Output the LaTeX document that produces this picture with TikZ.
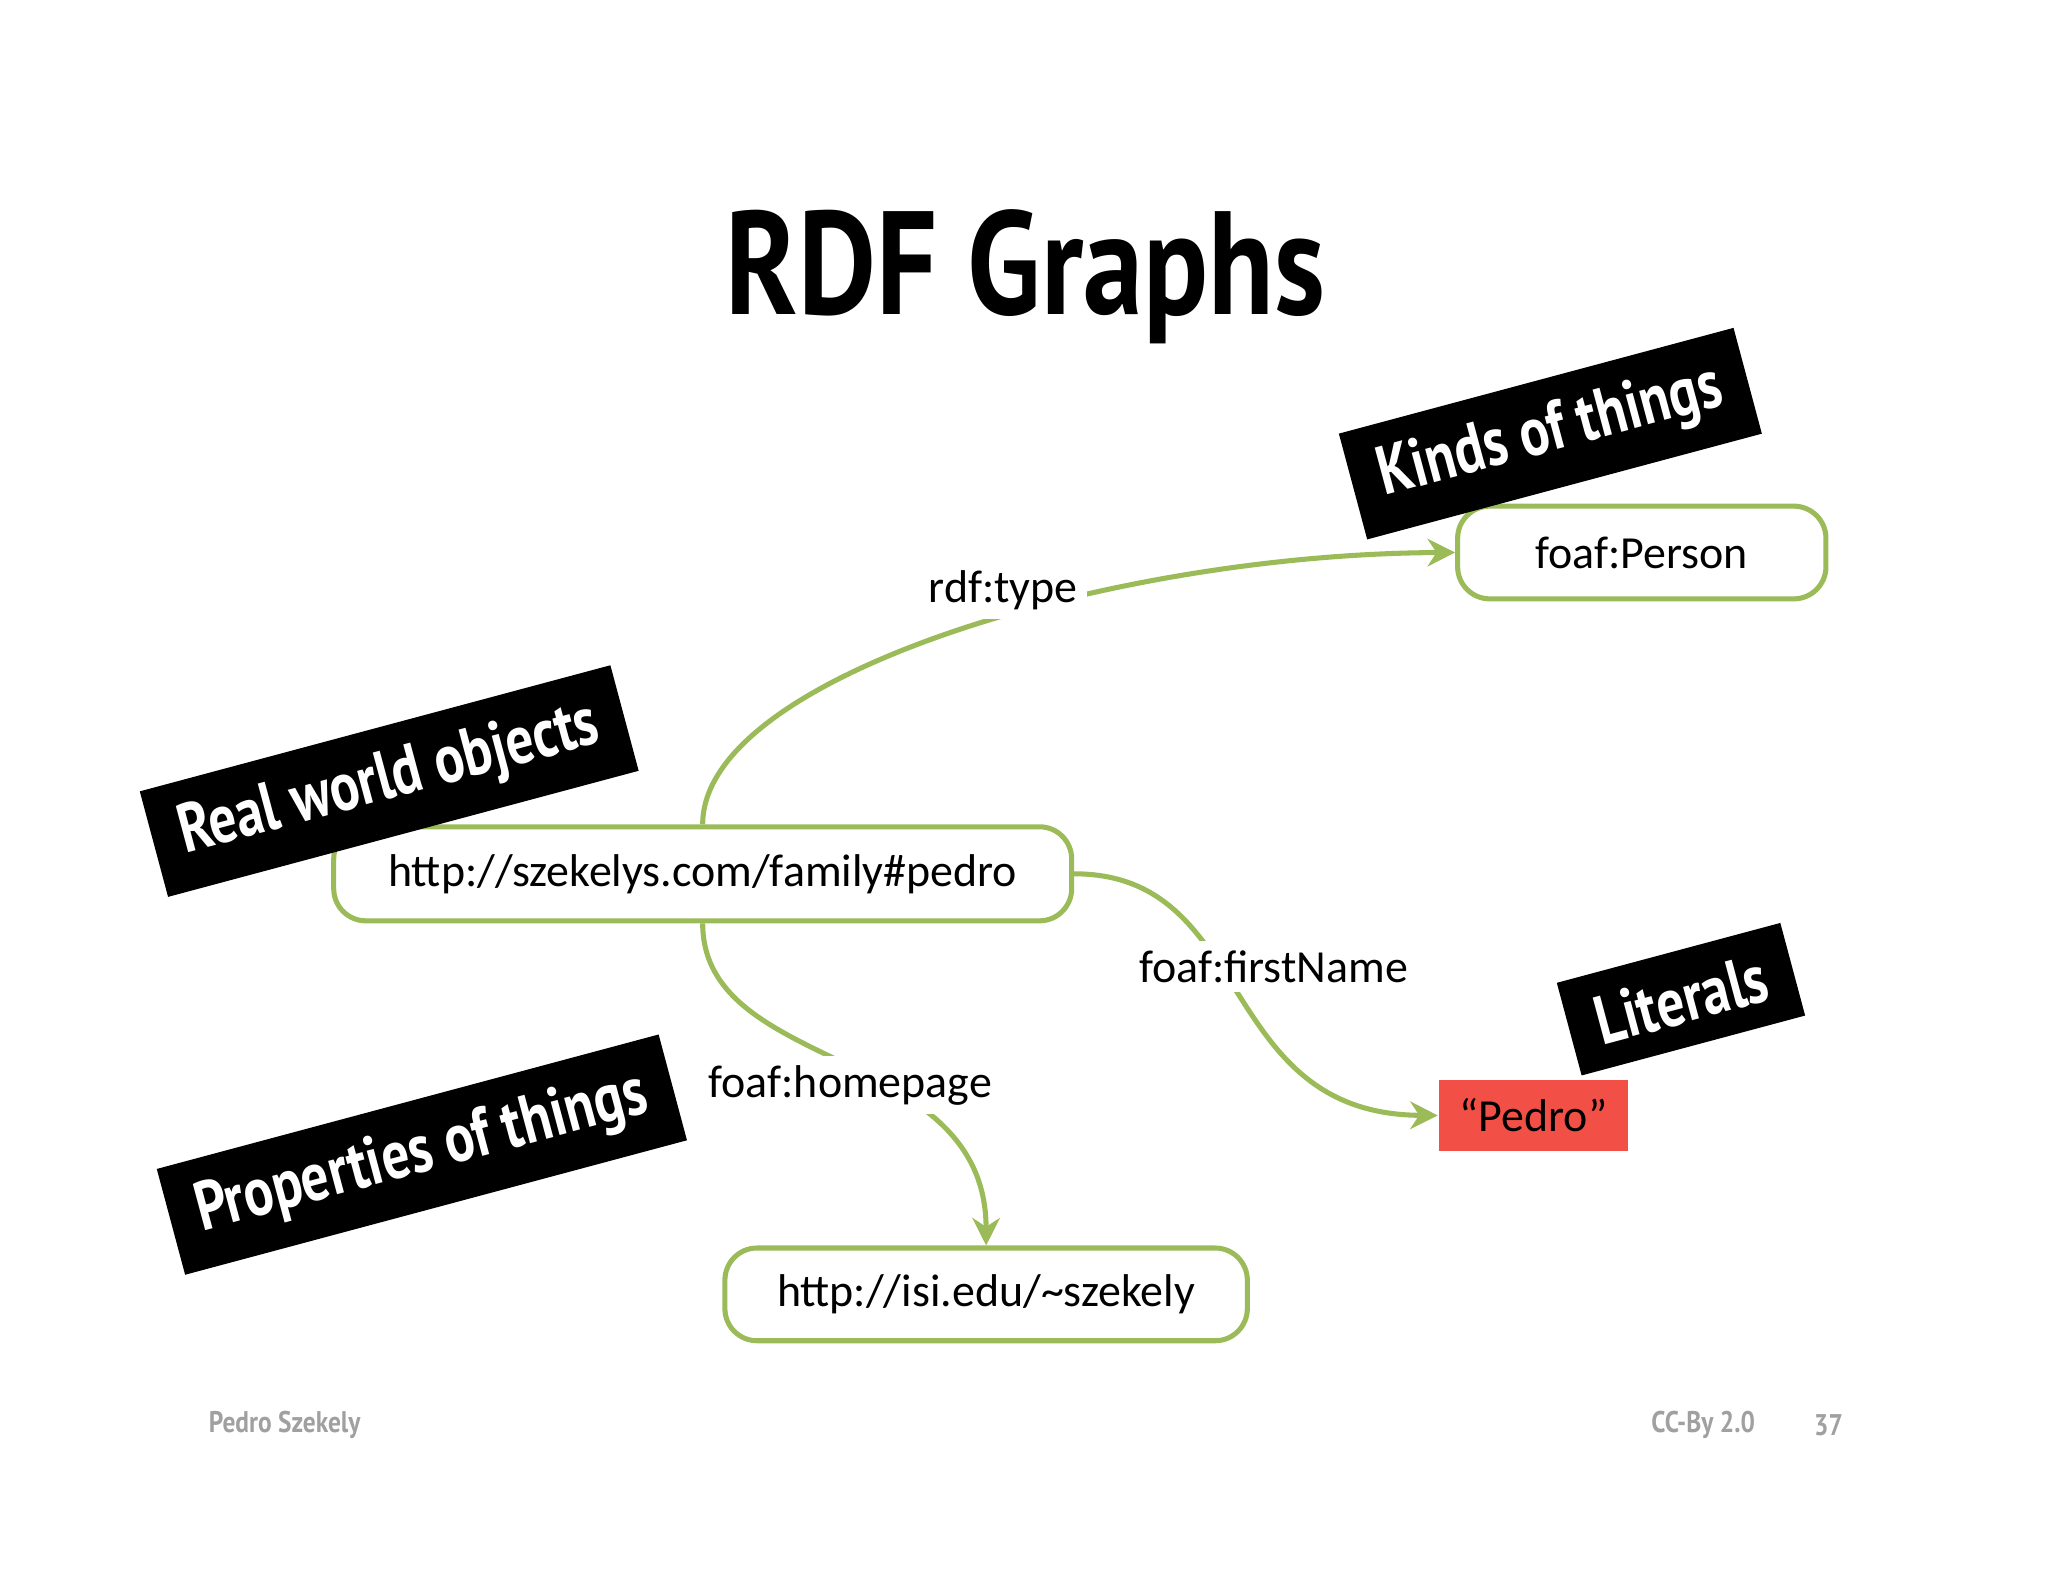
\documentclass[tikz,border=0pt]{standalone}
\usepackage{fontspec}
\setmainfont{Carlito}
\newfontfamily\titlefont[FakeStretch=0.82]{PT Sans}
\newfontfamily\footfont[FakeStretch=0.85]{PT Sans}
\newfontfamily\stampfont[FakeStretch=0.8]{PT Sans}
\usetikzlibrary{arrows.meta}
\definecolor{gr}{RGB}{155,187,89}
\definecolor{lit}{RGB}{242,80,70}
\definecolor{foot}{RGB}{160,160,160}
\begin{document}
\begin{tikzpicture}[x=0.01cm,y=-0.01cm,
  res/.style={draw=gr,line width=1.1pt,rounded corners=7pt,fill=white,font=\fontsize{10}{12}\selectfont,inner sep=0pt},
  stamp/.style={fill=black,text=white,font=\stampfont\bfseries\fontsize{15}{17}\selectfont,inner xsep=6pt,inner ysep=5pt},
  edge/.style={draw=gr,line width=1.1pt,-{Stealth[length=6pt,width=6pt]}},
  lbl/.style={fill=white,font=\fontsize{10}{12}\selectfont,inner sep=2pt}]
\useasboundingbox (0,0) rectangle (1568,1211);
\node[font=\titlefont\bfseries\fontsize{32}{36}\selectfont] (title) at (785,212) {RDF Graphs};
\node[res,minimum width=282*0.01cm,minimum height=71*0.01cm] (person) at (1257,423) {foaf:Person};
\node[res,minimum width=565*0.01cm,minimum height=72*0.01cm] (pedro) at (538,669) {http://szekelys.com/family\#pedro};
\node[res,minimum width=400*0.01cm,minimum height=71*0.01cm] (isi) at (755,991) {http://isi.edu/\textasciitilde szekely};
\node[fill=lit,minimum width=145*0.01cm,minimum height=55*0.01cm,inner sep=0pt,font=\fontsize{10}{12}\selectfont] (lit) at (1174,854) {“Pedro”};
\draw[edge] (pedro.north) .. controls +(0,-113) and (850,424) .. (person.west);
\node[lbl] (t1) at (768,452) {rdf:type};
\draw[edge] (pedro.east) .. controls +(139,0) and (930,853) .. (lit.west);
\node[lbl] (t2) at (975,740) {foaf:firstName};
\draw[edge] (pedro.south) .. controls +(0,115) and (755,800) .. (isi.north);
\node[lbl] (t3) at (651,831) {foaf:homepage};
\node[stamp,rotate=15] (k) at (1187,332) {Kinds of things};
\node[stamp,rotate=15] (r) at (298,598) {Real world objects};
\node[stamp,rotate=15] (p) at (323,884) {Properties of things};
\node[stamp,rotate=15] (l) at (1287,765) {Literals};
\node[text=foot,font=\footfont\bfseries\fontsize{6.5}{8}\selectfont] (f1) at (218,1091) {Pedro Szekely};
\node[text=foot,font=\footfont\bfseries\fontsize{6.5}{8}\selectfont] (f2) at (1304,1091) {CC-By 2.0};
\node[text=foot,font=\footfont\bfseries\fontsize{6.5}{8}\selectfont] (f3) at (1400,1091) {37};
\end{tikzpicture}
\end{document}
